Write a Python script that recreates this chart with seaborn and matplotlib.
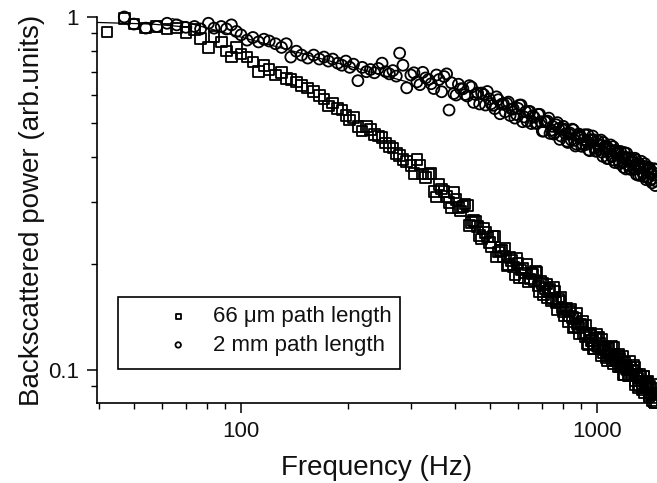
import numpy as np
import matplotlib
matplotlib.use("Agg")
import matplotlib.pyplot as plt
import matplotlib.ticker as mticker
from matplotlib.patches import Rectangle
import seaborn as sns

# ~~~~~~~~~~~~~~~~~~  DATA  ~~~~~~~~~~~~~~~~~~
freq_hz = [
    42, 47, 50, 54, 58, 62, 66, 70, 74, 77, 81, 84, 88, 91, 94, 97, 100, 104,
    108, 112, 116, 120, 125, 130, 134, 138, 143, 148, 154, 160, 166, 171, 176,
    181, 187, 192, 197, 202, 207, 213, 219, 225, 231, 237, 243, 249, 255, 261,
    267, 273, 279, 285, 292, 300,
    312, 324, 336, 348, 360, 372, 384, 396, 408, 420, 432, 444, 456, 468, 480,
    492, 504, 516, 528, 540, 552, 564, 576, 588, 600, 612, 624, 636, 648, 660,
    672, 684, 696, 708, 720, 732, 744, 756, 768, 780, 792, 804, 816, 828, 840,
    852, 864, 876, 888, 900, 912, 924, 936, 948, 960, 972, 984, 996, 1008,
    1020, 1032, 1044, 1056, 1068, 1080, 1092, 1104, 1116, 1128, 1140, 1152,
    1164, 1176, 1188, 1200, 1212, 1224, 1236, 1248, 1260, 1272, 1284, 1296,
    1308, 1320, 1332, 1344, 1356, 1368, 1380, 1392, 1404, 1416, 1428, 1440,
    1452, 1464,
]

# 66 um path length (squares)
power_66um = [
    0.907, 0.99, 0.955, 0.93, 0.94, 0.925, 0.93, 0.905, 0.92, 0.87, 0.82, 0.88,
    0.85, 0.80, 0.77, 0.82, 0.785, 0.77, 0.745, 0.70, 0.73, 0.71, 0.685, 0.695,
    0.67, 0.665, 0.655, 0.64, 0.63, 0.615, 0.60, 0.585, 0.56, 0.57, 0.55,
    0.545, 0.525, 0.51, 0.52, 0.49, 0.475, 0.49, 0.48, 0.465, 0.46, 0.455,
    0.44, 0.43, 0.425, 0.41, 0.405, 0.395, 0.39, 0.38,
    0.394, 0.359, 0.359, 0.320, 0.335, 0.320, 0.298, 0.318, 0.289, 0.291,
    0.292, 0.262, 0.263, 0.240, 0.252, 0.238, 0.223, 0.239, 0.216, 0.218,
    0.221, 0.199, 0.204, 0.186, 0.201, 0.192, 0.182, 0.199, 0.181, 0.187,
    0.190, 0.173, 0.178, 0.163, 0.175, 0.167, 0.157, 0.171, 0.155, 0.159,
    0.161, 0.146, 0.149, 0.137, 0.147, 0.141, 0.133, 0.145, 0.132, 0.135,
    0.137, 0.124, 0.127, 0.118, 0.127, 0.121, 0.115, 0.126, 0.116, 0.119,
    0.122, 0.112, 0.115, 0.106, 0.115, 0.111, 0.106, 0.116, 0.106, 0.109,
    0.111, 0.102, 0.105, 0.097, 0.105, 0.101, 0.096, 0.106, 0.097, 0.100,
    0.102, 0.093, 0.096, 0.089, 0.097, 0.093, 0.088, 0.096, 0.089, 0.092,
    0.093, 0.085, 0.088, 0.082, 0.089, 0.085, 0.081,
]

# 2 mm path length (circles)
power_2mm = [
    np.nan, 1.0, 0.955, 0.93, 0.94, 0.96, 0.95, 0.935, 0.94, 0.925, 0.96, 0.93,
    0.94, 0.925, 0.95, 0.91, 0.89, 0.86, 0.875, 0.85, 0.865, 0.855, 0.84,
    0.82, 0.84, 0.77, 0.80, 0.78, 0.765, 0.78, 0.76, 0.77, 0.75, 0.76, 0.74,
    0.73, 0.75, 0.72, 0.735, 0.66, 0.72, 0.70, 0.71, 0.695, 0.715, 0.74, 0.70,
    0.69, 0.705, 0.68, 0.79, 0.73, 0.63, 0.685,
    0.655, 0.697, 0.665, 0.627, 0.665, 0.678, 0.545, 0.607, 0.645, 0.626,
    0.597, 0.633, 0.603, 0.567, 0.603, 0.615, 0.568, 0.550, 0.583, 0.566,
    0.539, 0.574, 0.548, 0.517, 0.551, 0.563, 0.521, 0.507, 0.540, 0.525,
    0.500, 0.530, 0.505, 0.475, 0.505, 0.517, 0.478, 0.466, 0.495, 0.483,
    0.460, 0.490, 0.467, 0.441, 0.469, 0.481, 0.447, 0.436, 0.466, 0.455,
    0.435, 0.464, 0.444, 0.420, 0.449, 0.460, 0.427, 0.417, 0.445, 0.434,
    0.414, 0.441, 0.421, 0.397, 0.423, 0.434, 0.403, 0.393, 0.419, 0.409,
    0.391, 0.416, 0.398, 0.375, 0.401, 0.411, 0.381, 0.372, 0.397, 0.387,
    0.370, 0.394, 0.377, 0.356, 0.380, 0.390, 0.362, 0.353, 0.377, 0.368,
    0.351, 0.374, 0.359, 0.339, 0.362, 0.371, 0.343,
]

# second, interleaved sweep above 300 Hz (the dense part of both bands)
freq_hz_b = [
    306, 318, 330, 342, 354, 366, 378, 390, 402, 414, 426, 438, 450, 462, 474,
    486, 498, 510, 522, 534, 546, 558, 570, 582, 594, 606, 618, 630, 642, 654,
    666, 678, 690, 702, 714, 726, 738, 750, 762, 774, 786, 798, 810, 822, 834,
    846, 858, 870, 882, 894, 906, 918, 930, 942, 954, 966, 978, 990, 1002,
    1014, 1026, 1038, 1050, 1062, 1074, 1086, 1098, 1110, 1122, 1134, 1146,
    1158, 1170, 1182, 1194, 1206, 1218, 1230, 1242, 1254, 1266, 1278, 1290,
    1302, 1314, 1326, 1338, 1350, 1362, 1374, 1386, 1398, 1410, 1422, 1434,
    1446, 1458,
]

power_66um_b = [
    0.360, 0.381, 0.351, 0.360, 0.309, 0.326, 0.310, 0.288, 0.304, 0.282,
    0.295, 0.257, 0.265, 0.255, 0.235, 0.245, 0.230, 0.239, 0.209, 0.218,
    0.210, 0.197, 0.208, 0.196, 0.207, 0.182, 0.194, 0.188, 0.178, 0.188,
    0.179, 0.189, 0.167, 0.176, 0.170, 0.160, 0.169, 0.159, 0.167, 0.148,
    0.156, 0.150, 0.142, 0.150, 0.142, 0.149, 0.132, 0.140, 0.135, 0.127,
    0.134, 0.127, 0.134, 0.119, 0.125, 0.121, 0.115, 0.123, 0.117, 0.124,
    0.110, 0.117, 0.114, 0.108, 0.115, 0.110, 0.117, 0.104, 0.110, 0.107,
    0.102, 0.108, 0.103, 0.109, 0.097, 0.103, 0.100, 0.096, 0.102, 0.097,
    0.103, 0.091, 0.097, 0.095, 0.090, 0.096, 0.091, 0.096, 0.086, 0.092,
    0.089, 0.084, 0.090, 0.086, 0.091, 0.081, 0.086,
]

power_2mm_b = [
    0.695, 0.643, 0.672, 0.647, 0.685, 0.614, 0.690, 0.651, 0.601, 0.626,
    0.603, 0.639, 0.573, 0.609, 0.609, 0.563, 0.586, 0.562, 0.594, 0.532,
    0.567, 0.569, 0.526, 0.549, 0.529, 0.563, 0.505, 0.539, 0.540, 0.499,
    0.520, 0.500, 0.530, 0.475, 0.505, 0.507, 0.468, 0.490, 0.471, 0.502,
    0.450, 0.480, 0.481, 0.445, 0.465, 0.449, 0.479, 0.431, 0.461, 0.464,
    0.430, 0.450, 0.435, 0.464, 0.418, 0.447, 0.449, 0.417, 0.436, 0.421,
    0.448, 0.403, 0.429, 0.431, 0.398, 0.417, 0.403, 0.429, 0.387, 0.413,
    0.415, 0.384, 0.402, 0.387, 0.413, 0.371, 0.397, 0.399, 0.370, 0.387,
    0.373, 0.398, 0.358, 0.383, 0.384, 0.356, 0.373, 0.361, 0.384, 0.346,
    0.369, 0.371, 0.345, 0.361, 0.348, 0.371, 0.333,
]

# fitted lines drawn over the low-frequency part
fit_66um_x = [39.5, 56, 72]
fit_66um_y = [0.965, 0.955, 0.935]
fit_2mm_x = [64, 293]
fit_2mm_y = [0.99, 0.655]


# ~~~~~~~~~~~~~~~~~~  STYLE  ~~~~~~~~~~~~~~~~~~
sns.set_style("ticks")
plt.rcParams['font.family'] = ['Liberation Sans', 'DejaVu Sans']

fig = plt.figure(figsize=(6.57, 4.83), dpi=100)
ax = fig.add_axes([97 / 657, 80 / 483, 560 / 657, 386 / 483])


# ~~~~~~~~~~~~~~~~~~  PLOT  ~~~~~~~~~~~~~~~~~~
sq_style = dict(marker='s', s=58, facecolor='none', edgecolor='black',
                linewidth=1.3, clip_on=False, zorder=3, ax=ax)
ci_style = dict(marker='o', s=62, facecolor='none', edgecolor='black',
                linewidth=1.3, clip_on=False, zorder=3, ax=ax)

sns.scatterplot(x=freq_hz, y=power_66um, label='66 \u03bcm path length',
                **sq_style)
sns.scatterplot(x=freq_hz, y=power_2mm, label='2 mm path length',
                **ci_style)
sns.scatterplot(x=freq_hz_b, y=power_66um_b, **sq_style)
sns.scatterplot(x=freq_hz_b, y=power_2mm_b, **ci_style)

sns.lineplot(x=fit_66um_x, y=fit_66um_y, color='black', linewidth=0.9,
             legend=False, ax=ax)
sns.lineplot(x=fit_2mm_x, y=fit_2mm_y, color='black', linewidth=0.9,
             legend=False, ax=ax)

ax.set_xscale('log')
ax.set_yscale('log')
ax.set_xlim(39.4, 1474)
ax.set_ylim(0.0806, 1.0)

ax.set_xticks([100, 1000], labels=['100', '1000'])
ax.set_yticks([0.1, 1], labels=['0.1', '1'])
ax.xaxis.set_minor_locator(mticker.LogLocator(base=10, subs=np.arange(2, 10)))
ax.yaxis.set_minor_locator(mticker.LogLocator(base=10, subs=np.arange(2, 10)))
ax.xaxis.set_minor_formatter(mticker.NullFormatter())
ax.yaxis.set_minor_formatter(mticker.NullFormatter())

ax.tick_params(which='major', length=7, width=1.1, labelsize=16, pad=6,
               color='black', labelcolor='#111111')
ax.tick_params(which='minor', length=4, width=1.0, color='black')
sns.despine(ax=ax)
for side in ['left', 'bottom']:
    ax.spines[side].set_linewidth(1.2)
    ax.spines[side].set_color('black')

ax.set_xlabel('Frequency (Hz)', fontsize=20, labelpad=9, color='#111111')
ax.set_ylabel('Backscattered power (arb.units)', fontsize=20, labelpad=2,
              color='#111111')

# legend: frameless entries + a separate rectangle as the box
handles, labels = ax.get_legend_handles_labels()
leg = ax.legend(handles[:2], labels[:2], loc='upper left',
                bbox_to_anchor=((156 - 97) / 560, (403 - 306) / 386),
                borderaxespad=0, borderpad=0, frameon=False, fontsize=16,
                markerscale=0.5, handlelength=2.0, handletextpad=0.55,
                labelspacing=0.35)
for t in leg.get_texts():
    t.set_color('#111111')
ax.add_patch(Rectangle(((118 - 97) / 560, (403 - 369) / 386),
                       (400 - 118) / 560, 72 / 386, transform=ax.transAxes,
                       fill=False, edgecolor='black', linewidth=1.2,
                       zorder=4))

plt.savefig("out.png", dpi=100)
